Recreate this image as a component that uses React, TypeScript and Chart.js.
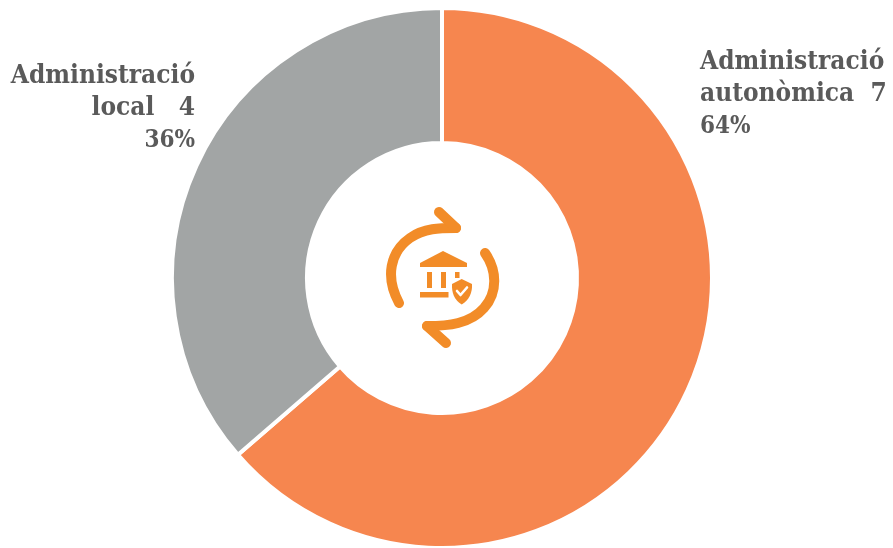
import { useEffect, useRef } from "react";
import { Chart, registerables } from "chart.js";

Chart.register(...registerables);

const categoryHead = ["Administració", "Administració"];
const categoryTail = ["autonòmica", "local"];
const values = [7, 4];
const valueGaps = ["  ", "   "];
const colors = ["#F6864F", "#A2A5A5"];

const TEXT_COLOR = "#5A5A5A";
const FAMILY = '"DejaVu Serif Condensed", "DejaVu Serif"';

// Text blocks beside the ring: first block is left aligned, second right aligned.
const labelPlugin = {
  id: "sideLabels",
  afterDraw(chart: Chart) {
    const { ctx } = chart;
    const total = values.reduce((a, b) => a + b, 0);
    const blocks = [
      { x: 700, ys: [69, 101, 133], align: "left" as CanvasTextAlign },
      { x: 195, ys: [83, 115, 147], align: "right" as CanvasTextAlign },
    ];
    ctx.save();
    ctx.fillStyle = TEXT_COLOR;
    blocks.forEach((b, i) => {
      const lines = [
        categoryHead[i],
        `${categoryTail[i]}${valueGaps[i]}${values[i]}`,
        `${Math.round((values[i] / total) * 100)}%`,
      ];
      ctx.textAlign = b.align;
      lines.forEach((line, k) => {
        ctx.font = `bold ${k === 2 ? 24 : 26}px ${FAMILY}`;
        ctx.fillText(line, b.x, b.ys[k]);
      });
    });
    ctx.restore();
  },
};

function CenterIcon() {
  const c = "#F28C28";
  return (
    <svg
      width={893}
      height={548}
      viewBox="0 0 893 548"
      style={{ position: "absolute", left: 0, top: 0, pointerEvents: "none" }}
    >
      <g fill="none" stroke={c} strokeWidth={10} strokeLinecap="round" strokeLinejoin="round">
        <path d="M399 303 C385 277 390 252 410 238 C424 228 440 228 456 228" />
        <path d="M439 212 L456 228" />
        <path d="M485 253 C497 270 498 292 484 308 C470 324 448 326 427 326" />
        <path d="M446 343 L427 326" />
      </g>
      <g fill={c}>
        <path d="M420 267 L420 263 L443 251 L467 263 L467 267 Z" />
        <rect x={427} y={272} width={5} height={16} />
        <rect x={441} y={272} width={5} height={16} />
        <rect x={455} y={272} width={4.5} height={6} />
        <rect x={420} y={292} width={28.5} height={5.5} />
        <path d="M461.7 279 L472 284 C472.5 293 469 300 461.7 304.5 C454.5 300 451.5 293 452 284 Z" />
      </g>
      <path
        d="M457 291 L460.5 295 L467 287.5"
        fill="none"
        stroke="#fff"
        strokeWidth={2.6}
        strokeLinecap="round"
        strokeLinejoin="round"
      />
    </svg>
  );
}

export default function App() {
  const ref = useRef<HTMLCanvasElement>(null);

  useEffect(() => {
    const chart = new Chart(ref.current!, {
      type: "doughnut",
      data: {
        labels: categoryTail,
        datasets: [
          {
            data: values,
            backgroundColor: colors,
            borderColor: "#ffffff",
            borderWidth: 4,
          },
        ],
      },
      options: {
        responsive: false,
        animation: false,
        cutout: "50%",
        layout: { padding: { left: 170, right: 179, top: 6, bottom: 10 } },
        plugins: { legend: { display: false }, tooltip: { enabled: false } },
      },
      plugins: [labelPlugin],
    });
    return () => chart.destroy();
  }, []);

  return (
    <div style={{ position: "absolute", left: 0, top: 0, width: 893, height: 548, overflow: "hidden", background: "#fff" }}>
      <canvas ref={ref} width={893} height={560} style={{ display: "block" }} />
      <CenterIcon />
    </div>
  );
}
